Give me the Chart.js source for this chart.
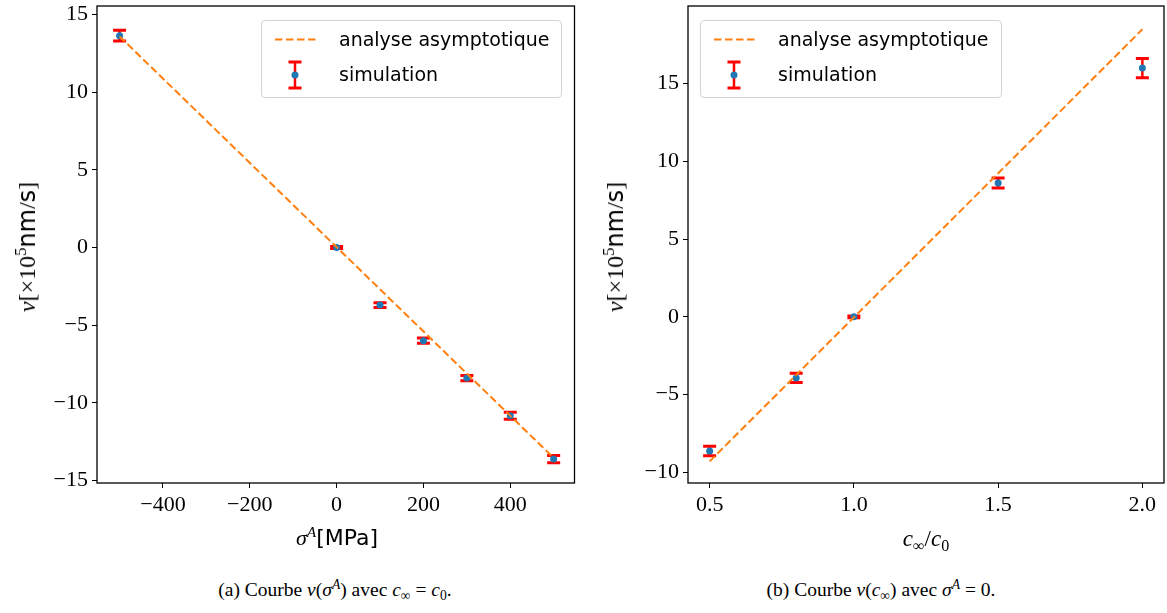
<!DOCTYPE html>
<html><head><meta charset="utf-8">
<script src="https://cdn.jsdelivr.net/npm/chart.js@4"></script>
<style>
body{margin:0;width:1167px;height:613px;background:#fff;position:relative;overflow:hidden}
canvas{position:absolute;top:0}
.t{position:absolute;white-space:nowrap;color:#000;line-height:1}
.serif{font-family:"Liberation Serif",serif}
.it{font-family:"Liberation Serif",serif;font-style:italic}
.sans{font-family:"DejaVu Sans",sans-serif}
.sup{font-size:70%;position:relative;top:-0.55em}
.sub{font-size:70%;position:relative;top:0.3em}
.leg{position:absolute;border:1px solid #d4d4d4;border-radius:4px;background:rgba(255,255,255,0.8);box-sizing:border-box}
.lt{position:absolute;font-family:"DejaVu Sans",sans-serif;font-size:19px;line-height:22px;white-space:nowrap;color:#000}
svg{position:absolute}
</style></head><body>
<canvas id="cA" width="576" height="540" style="left:0"></canvas>
<canvas id="cB" width="575" height="540" style="left:592px"></canvas>

<!-- legends -->
<div class="leg" style="left:261px;top:20px;width:301px;height:78px"></div>
<svg style="left:270px;top:30px" width="55" height="20"><line x1="5" y1="9.5" x2="48" y2="9.5" stroke="#ff7f0e" stroke-width="2" stroke-dasharray="7.5 3.5"/></svg>
<svg style="left:285px;top:58px" width="20" height="34"><line x1="10" y1="4" x2="10" y2="30" stroke="#f00" stroke-width="2.5"/><line x1="3.5" y1="4" x2="16.5" y2="4" stroke="#f00" stroke-width="3"/><line x1="3.5" y1="30" x2="16.5" y2="30" stroke="#f00" stroke-width="3"/><circle cx="10" cy="17" r="3.5" fill="#1f77b4"/></svg>
<div class="lt" style="left:339px;top:28px">analyse asymptotique</div>
<div class="lt" style="left:339px;top:63px">simulation</div>

<div class="leg" style="left:700px;top:20px;width:302px;height:78px"></div>
<svg style="left:709px;top:30px" width="55" height="20"><line x1="5" y1="9.5" x2="48" y2="9.5" stroke="#ff7f0e" stroke-width="2" stroke-dasharray="7.5 3.5"/></svg>
<svg style="left:724px;top:58px" width="20" height="34"><line x1="10" y1="4" x2="10" y2="30" stroke="#f00" stroke-width="2.5"/><line x1="3.5" y1="4" x2="16.5" y2="4" stroke="#f00" stroke-width="3"/><line x1="3.5" y1="30" x2="16.5" y2="30" stroke="#f00" stroke-width="3"/><circle cx="10" cy="17" r="3.5" fill="#1f77b4"/></svg>
<div class="lt" style="left:778px;top:28px">analyse asymptotique</div>
<div class="lt" style="left:778px;top:63px">simulation</div>

<!-- axis titles -->
<div class="t" style="left:337px;top:538px;transform:translate(-50%,-50%);font-size:22px"><span class="it">σ</span><span class="it sup">A</span><span class="sans">[MPa]</span></div>
<div class="t" style="left:27px;top:247px;transform:translate(-50%,-50%) rotate(-90deg);font-size:24px"><span class="it">v</span><span class="serif">[×10</span><span class="serif sup">5</span><span class="sans">nm</span><span class="serif">/</span><span class="sans">s</span><span class="serif">]</span></div>
<div class="t" style="left:926px;top:538px;transform:translate(-50%,-50%);font-size:23px"><span class="it">c</span><span class="serif sub">∞</span><span class="serif">/</span><span class="it">c</span><span class="serif sub">0</span></div>
<div class="t" style="left:615px;top:247px;transform:translate(-50%,-50%) rotate(-90deg);font-size:24px"><span class="it">v</span><span class="serif">[×10</span><span class="serif sup">5</span><span class="sans">nm</span><span class="serif">/</span><span class="sans">s</span><span class="serif">]</span></div>

<!-- captions -->
<div class="t serif" style="left:335px;top:590px;transform:translate(-50%,-50%);font-size:19.5px">(a) Courbe <span class="it">v</span>(<span class="it">σ</span><span class="it sup">A</span>) avec <span class="it">c</span><span class="sub">∞</span> = <span class="it">c</span><span class="sub">0</span>.</div>
<div class="t serif" style="left:881px;top:590px;transform:translate(-50%,-50%);font-size:19.5px">(b) Courbe <span class="it">v</span>(<span class="it">c</span><span class="sub">∞</span>) avec <span class="it">σ</span><span class="it sup">A</span> = 0.</div>

<script>
// ---- data: chart (a) ----
const sigmaA = [-500, 0, 100, 200, 300, 400, 500];
const vSimA = [13.65, 0.0, -3.71, -6.0, -8.41, -10.84, -13.63];
const errA = [0.35, 0.06, 0.15, 0.17, 0.17, 0.23, 0.23];
const sigmaLine = [-500, 500];
const vLineA = [13.6, -13.55];
const xTicksA = [-400, -200, 0, 200, 400];
const yTicksA = [-15, -10, -5, 0, 5, 10, 15];
// ---- data: chart (b) ----
const cRatio = [0.5, 0.8, 1.0, 1.5, 2.0];
const vSimB = [-8.63, -3.93, 0.0, 8.61, 16.01];
const errB = [0.3, 0.3, 0.06, 0.32, 0.62];
const cLine = [0.5, 2.0];
const vLineB = [-9.3, 18.5];
const xTicksB = [0.5, 1.0, 1.5, 2.0];
const yTicksB = [-10, -5, 0, 5, 10, 15];

const fmtNum = v => (v < 0 ? '\u2212' + Math.abs(v) : String(v));
const fmtDec = v => v.toFixed(1);

const errPlugin = {
  id: 'errbars',
  beforeDatasetDraw(chart, args) {
    if (args.index !== 1) return;
    const ds = chart.data.datasets[1];
    const xs = chart.scales.x, ys = chart.scales.y, ctx = chart.ctx;
    ctx.save();
    ctx.strokeStyle = '#ff0000';
    ds.data.forEach((p, i) => {
      const px = xs.getPixelForValue(p.x);
      const y1 = ys.getPixelForValue(p.y + ds.errors[i]);
      const y2 = ys.getPixelForValue(p.y - ds.errors[i]);
      ctx.lineWidth = 2.5;
      ctx.beginPath(); ctx.moveTo(px, y1); ctx.lineTo(px, y2); ctx.stroke();
      ctx.lineWidth = 3;
      ctx.beginPath();
      ctx.moveTo(px - 6.5, y1); ctx.lineTo(px + 6.5, y1);
      ctx.moveTo(px - 6.5, y2); ctx.lineTo(px + 6.5, y2);
      ctx.stroke();
    });
    ctx.restore();
  }
};
const framePlugin = {
  id: 'frame',
  afterDraw(chart) {
    const a = chart.chartArea, ctx = chart.ctx;
    ctx.save();
    ctx.strokeStyle = '#000'; ctx.lineWidth = 1.3;
    ctx.strokeRect(a.left, a.top, a.right - a.left, a.bottom - a.top);
    ctx.restore();
  }
};

function makeChart(id, xv, yv, errs, xl, yl, xT, yT, xr, yr, xfmt, yw, pad) {
  const tickFont = { family: '"Liberation Serif", serif', size: 22 };
  new Chart(document.getElementById(id), {
    data: {
      datasets: [
        { type: 'line', data: xl.map((x, i) => ({ x, y: yl[i] })), borderColor: '#ff7f0e', borderWidth: 2,
          borderDash: [7.5, 3.5], pointRadius: 0, fill: false, tension: 0 },
        { type: 'scatter', data: xv.map((x, i) => ({ x, y: yv[i] })), errors: errs, pointRadius: 3.5,
          backgroundColor: '#1f77b4', borderWidth: 0, pointHoverRadius: 3.5 }
      ]
    },
    options: {
      responsive: false, animation: false, devicePixelRatio: 1,
      layout: { padding: pad, autoPadding: false },
      plugins: { legend: { display: false }, tooltip: { enabled: false } },
      scales: {
        x: {
          type: 'linear', min: xr[0], max: xr[1],
          afterBuildTicks: s => { s.ticks = xT.map(v => ({ value: v })); },
          afterFit: s => { s.height = 57; s.paddingLeft = 0; s.paddingRight = 0; },
          ticks: { font: tickFont, color: '#000', padding: 4, maxRotation: 0, autoSkip: false, callback: v => xfmt(v) },
          grid: { drawOnChartArea: false, drawTicks: true, tickLength: 5, tickColor: '#000', lineWidth: 1 },
          border: { display: false }
        },
        y: {
          type: 'linear', min: yr[0], max: yr[1],
          afterBuildTicks: s => { s.ticks = yT.map(v => ({ value: v })); },
          afterFit: s => { s.width = yw; s.paddingTop = 0; s.paddingBottom = 0; },
          ticks: { font: tickFont, color: '#000', padding: 4, autoSkip: false, callback: v => fmtNum(v) },
          grid: { drawOnChartArea: false, drawTicks: true, tickLength: 5, tickColor: '#000', lineWidth: 1 },
          border: { display: false }
        }
      }
    },
    plugins: [errPlugin, framePlugin]
  });
}

makeChart('cA', sigmaA, vSimA, errA, sigmaLine, vLineA, xTicksA, yTicksA, [-552, 548], [-15.17, 15.56], fmtNum, 97,
  { top: 6, right: 1.5, left: 0, bottom: 0 });
makeChart('cB', cRatio, vSimB, errB, cLine, vLineB, xTicksB, yTicksB, [0.425, 2.075], [-10.69, 20.0], fmtDec, 96,
  { top: 6, right: 3, left: 0, bottom: 0 });
</script>
</body></html>
